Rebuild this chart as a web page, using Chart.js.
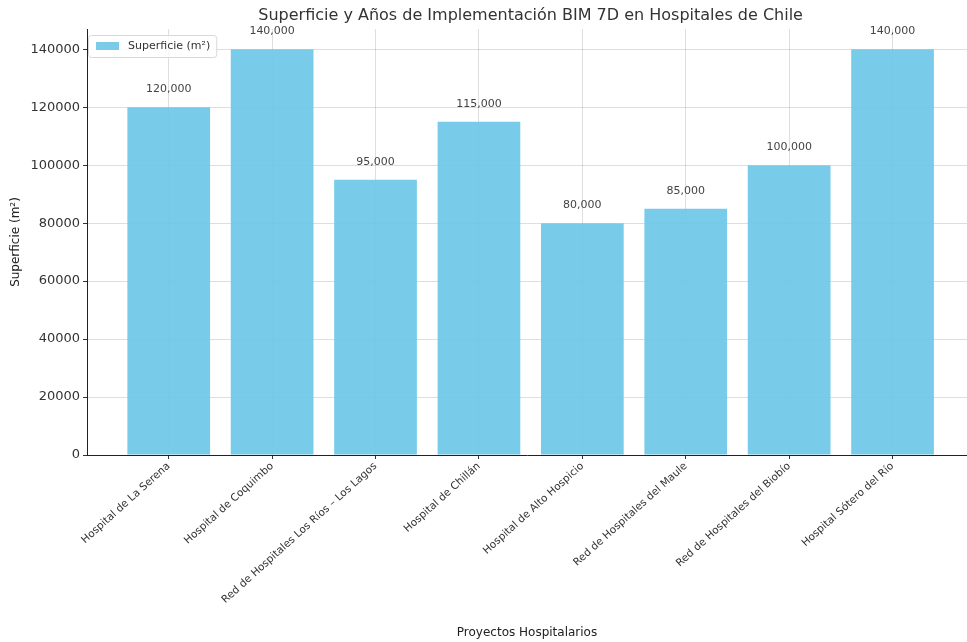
<!DOCTYPE html>
<html>
<head>
<meta charset="utf-8">
<script src="https://cdn.jsdelivr.net/npm/chart.js@4.4.1/dist/chart.umd.min.js"></script>
<style>
html,body{margin:0;padding:0;background:#fff;overflow:hidden;}
#wrap{width:967px;height:642px;position:relative;}
</style>
</head>
<body>
<div id="wrap"><canvas id="c" width="967" height="642"></canvas></div>
<script>
const categories = [
  "Hospital de La Serena",
  "Hospital de Coquimbo",
  "Red de Hospitales Los Ríos – Los Lagos",
  "Hospital de Chillán",
  "Hospital de Alto Hospicio",
  "Red de Hospitales del Maule",
  "Red de Hospitales del Biobío",
  "Hospital Sótero del Río"
];
const superficie = [120000, 140000, 95000, 115000, 80000, 85000, 100000, 140000];
const yTicks = [0, 20000, 40000, 60000, 80000, 100000, 120000, 140000];
const seriesLabel = "Superficie (m²)";
const chartTitle = "Superficie y Años de Implementación BIM 7D en Hospitales de Chile";
const xTitle = "Proyectos Hospitalarios";
const yTitle = "Superficie (m²)";

const FONT = "'DejaVu Sans', sans-serif";
const BAR = 'rgba(110,200,231,0.92)';

const overlay = {
  id: 'overlay',
  afterDatasetsDraw(chart) {
    const ctx = chart.ctx;
    const meta = chart.getDatasetMeta(0);
    ctx.save();
    ctx.font = '11px ' + FONT;
    ctx.fillStyle = '#444';
    ctx.textAlign = 'center';
    ctx.textBaseline = 'middle';
    meta.data.forEach((bar, i) => {
      ctx.fillText(superficie[i].toLocaleString('en-US'), bar.x, bar.y - 18);
    });
    ctx.restore();
  },
  afterDraw(chart) {
    const ctx = chart.ctx;
    const a = chart.chartArea;
    ctx.save();
    ctx.font = '16px ' + FONT;
    ctx.fillStyle = '#333';
    ctx.textAlign = 'center';
    ctx.textBaseline = 'middle';
    ctx.fillText(chartTitle, (a.left + chart.scales.x.getPixelForValue(7.79)) / 2, 16);
    // legend
    const lx = a.left + 1, ly = a.top + 6;
    ctx.font = '11px ' + FONT;
    const tw = ctx.measureText(seriesLabel).width;
    const w = 8 + 23 + 9 + tw + 6, h = 22;
    ctx.fillStyle = 'rgba(255,255,255,0.85)';
    ctx.strokeStyle = '#d8d8d8';
    ctx.lineWidth = 1;
    ctx.beginPath();
    ctx.roundRect(lx + 0.5, ly + 0.5, w, h, 3);
    ctx.fill(); ctx.stroke();
    ctx.fillStyle = '#79cbe8';
    ctx.fillRect(lx + 8, ly + 7, 23, 8);
    ctx.fillStyle = '#333';
    ctx.textAlign = 'left';
    ctx.fillText(seriesLabel, lx + 40, ly + 11.5);
    ctx.restore();
  }
};

new Chart(document.getElementById('c'), {
  type: 'bar',
  data: {
    datasets: [{
      label: seriesLabel,
      data: superficie.map((v, i) => ({x: i, y: v})),
      backgroundColor: BAR,
      borderWidth: 0,
      barPercentage: 0.8,
      categoryPercentage: 1.0
    }]
  },
  options: {
    responsive: false,
    animation: false,
    layout: {padding: {top: 29, right: 0, left: 9, bottom: 2}},
    plugins: {
      legend: {display: false},
      title: {display: false},
      tooltip: {enabled: false}
    },
    scales: {
      x: {
        type: 'linear',
        offset: false,
        min: -0.79,
        max: 7.72,
        afterBuildTicks: (s) => { s.ticks = categories.map((_, i) => ({value: i})); },
        afterFit: (s) => { s.height = 185; },
        ticks: {
          autoSkip: false,
          maxRotation: 42,
          minRotation: 42,
          font: {family: FONT, size: 10.5},
          color: '#333',
          padding: 1,
          callback: (v) => categories[v] ?? ''
        },
        grid: {
          offset: false,
          color: 'rgba(0,0,0,0.13)',
          borderDash: [3, 3],
          tickColor: '#333',
          tickLength: 4,
          tickBorderDash: [],
          drawTicks: true
        },
        border: {display: true, color: '#222', width: 1},
        title: {
          display: true,
          text: xTitle,
          font: {family: FONT, size: 12},
          color: '#222',
          padding: {top: 9, bottom: 0}
        }
      },
      y: {
        min: 0,
        max: 147000,
        afterBuildTicks: (s) => { s.ticks = yTicks.map(v => ({value: v})); },
        ticks: {
          font: {family: FONT, size: 13},
          color: '#333',
          padding: 3,
          callback: (v) => String(v)
        },
        grid: {
          color: 'rgba(0,0,0,0.13)',
          borderDash: [3, 3],
          tickColor: '#333',
          tickLength: 4,
          tickBorderDash: []
        },
        border: {display: true, color: '#222', width: 1},
        title: {
          display: true,
          text: yTitle,
          font: {family: FONT, size: 12},
          color: '#222',
          padding: {top: 0, bottom: 4}
        }
      }
    }
  },
  plugins: [overlay]
});
</script>
</body>
</html>
